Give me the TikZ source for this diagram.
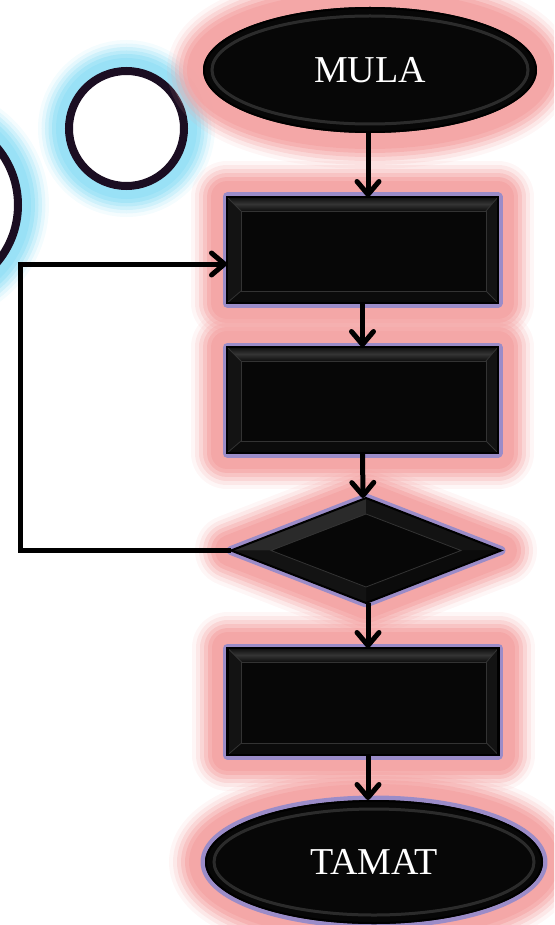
\documentclass[tikz,border=0pt]{standalone}
\usepackage{fontspec}
\setmainfont{Liberation Serif}
\usetikzlibrary{shapes.geometric,arrows.meta,calc}

\definecolor{glowpink}{RGB}{244,165,165}
\definecolor{rimlav}{RGB}{155,140,200}
\definecolor{glowcyan}{RGB}{150,224,246}
\definecolor{circline}{RGB}{27,14,34}
\definecolor{face}{RGB}{7,7,7}
\definecolor{bevhi}{RGB}{52,52,52}
\definecolor{bevlo}{RGB}{14,14,14}
\definecolor{bevside}{RGB}{19,19,19}
\definecolor{bevbot}{RGB}{11,11,11}

% draws the bevelled facets over a rectangular process box
\newcommand\bevrect[1]{%
  \coordinate (#1-a) at ($(#1.north west)+(14,14)$);
  \coordinate (#1-b) at ($(#1.north east)+(-12,14)$);
  \coordinate (#1-c) at ($(#1.south east)+(-12,-12)$);
  \coordinate (#1-d) at ($(#1.south west)+(14,-12)$);
  \fill[bevside] (#1.north west) -- (#1-a) -- (#1-d) -- (#1.south west) -- cycle;
  \fill[bevside] (#1.north east) -- (#1-b) -- (#1-c) -- (#1.south east) -- cycle;
  \fill[bevbot] (#1.south west) -- (#1-d) -- (#1-c) -- (#1.south east) -- cycle;
  \shade[top color=bevlo, bottom color=bevlo, middle color=bevhi]
    (#1.north west) -- (#1.north east) -- (#1-b) -- (#1-a) -- cycle;
  \draw[bevedge] (#1.north west) -- (#1-a) (#1.north east) -- (#1-b)
                 (#1.south east) -- (#1-c) (#1.south west) -- (#1-d);
  \draw[bevedge] (#1-a) rectangle (#1-c);
  \draw[black, line width=2.5pt] (#1.north west) rectangle (#1.south east);
}

\begin{document}
\begin{tikzpicture}[x=1pt, y=-1pt,
  pinkglow/.style={
    preaction={draw=glowpink, line width=72pt, opacity=.10, line join=round},
    preaction={draw=glowpink, line width=64pt, opacity=.17, line join=round},
    preaction={draw=glowpink, line width=56pt, opacity=.27, line join=round},
    preaction={draw=glowpink, line width=48pt, opacity=.36, line join=round},
    preaction={draw=glowpink, line width=40pt, opacity=.57, line join=round},
    preaction={draw=glowpink, line width=32pt, opacity=.82, line join=round}},
  cyanglow/.style={
    preaction={draw=glowcyan, line width=62pt, opacity=.10},
    preaction={draw=glowcyan, line width=55pt, opacity=.17},
    preaction={draw=glowcyan, line width=48pt, opacity=.27},
    preaction={draw=glowcyan, line width=41pt, opacity=.36},
    preaction={draw=glowcyan, line width=34pt, opacity=.57},
    preaction={draw=glowcyan, line width=26pt, opacity=.80}},
  lavrim/.style={preaction={draw=rimlav, line width=9pt, line join=round}},
  ring/.style={circle, cyanglow, draw=circline, line width=8pt, fill=white,
    inner sep=0pt, outer sep=0pt},
  term/.style={ellipse, pinkglow, fill=face, inner sep=0pt, outer sep=0pt,
    text=white, font=\fontsize{38}{38}\selectfont},
  procbox/.style={rectangle, pinkglow, lavrim, fill=face, inner sep=0pt,
    outer sep=0pt, minimum width=271pt, minimum height=106pt},
  decision/.style={diamond, pinkglow, lavrim, fill=face, inner sep=0pt,
    outer sep=0pt, minimum width=270pt, minimum height=105pt},
  bevedge/.style={draw=black!80, line width=0.8pt},
  ellring/.style={draw=white!35!black, line width=3pt, opacity=.45},
  conn/.style={draw=black, line width=5pt,
    -{Straight Barb[length=13pt, width=22pt, round]}},
  loopline/.style={draw=black, line width=5pt, line join=miter,
    -{Straight Barb[length=13pt, width=22pt, round]}}
]
\useasboundingbox (0,0) rectangle (554,925);
\clip (0,0) rectangle (554,925);

% connector circles on the left
\node[ring, minimum size=178pt] (bigc) at (-71,205) {};
\node[ring, minimum size=115pt] (smallc) at (126.5,128.5) {};

% terminators
\node[term, minimum width=334pt, minimum height=126pt] (start) at (370,70) {MULA};
\draw[ellring] (start.center) ellipse [x radius=158pt, y radius=54pt];
\draw[black, line width=2pt] (start.center) ellipse [x radius=166pt, y radius=62pt];

\node[term, lavrim, minimum width=338pt, minimum height=124pt] (end) at (374,862) {TAMAT};
\draw[ellring] (end.center) ellipse [x radius=160pt, y radius=53pt];
\draw[black, line width=2pt] (end.center) ellipse [x radius=168pt, y radius=61pt];

% process boxes
\node[procbox] (p1) at (362.5,250) {};
\bevrect{p1}
\node[procbox] (p2) at (362.5,400) {};
\bevrect{p2}
\node[procbox, minimum height=107pt] (p3) at (363,701.5) {};
\bevrect{p3}

% decision
\node[decision] (dec) at (366,550.5) {};
\coordinate (dec-t) at ($(dec.north)+(0,16)$);
\coordinate (dec-r) at ($(dec.east)+(-40,0)$);
\coordinate (dec-b) at ($(dec.south)+(0,-16)$);
\coordinate (dec-l) at ($(dec.west)+(40,0)$);
\fill[bevhi!80!black] (dec.west) -- (dec.north) -- (dec-t) -- (dec-l) -- cycle;
\fill[bevside] (dec.north) -- (dec.east) -- (dec-r) -- (dec-t) -- cycle;
\fill[bevbot] (dec.east) -- (dec.south) -- (dec-b) -- (dec-r) -- cycle;
\fill[bevside] (dec.south) -- (dec.west) -- (dec-l) -- (dec-b) -- cycle;
\draw[bevedge] (dec-t) -- (dec-r) -- (dec-b) -- (dec-l) -- cycle;
\draw[black, line width=2pt] (dec.north) -- (dec.east) -- (dec.south) -- (dec.west) -- cycle;

% flow connectors
\draw[conn] ($(start.south)+(-2,0)$) -- ($(p1.north)+(5.5,0)$);
\draw[conn] (p1.south) -- (p2.north);
\draw[conn] (p2.south) -- ($(dec.north)+(-3,0)$);
\draw[conn] ($(dec.south)+(2,0)$) -- ($(p3.north)+(5,0)$);
\draw[conn] ($(p3.south)+(5,0)$) -- ($(end.north)+(-6,0)$);

% loop back from the decision to the first box
\coordinate (loopbot) at (20,550.5);
\coordinate (looptop) at (20,264);
\draw[loopline] (dec.west) -- (loopbot) -- (looptop) -- ($(p1.west)+(0,14)$);
\end{tikzpicture}
\end{document}
